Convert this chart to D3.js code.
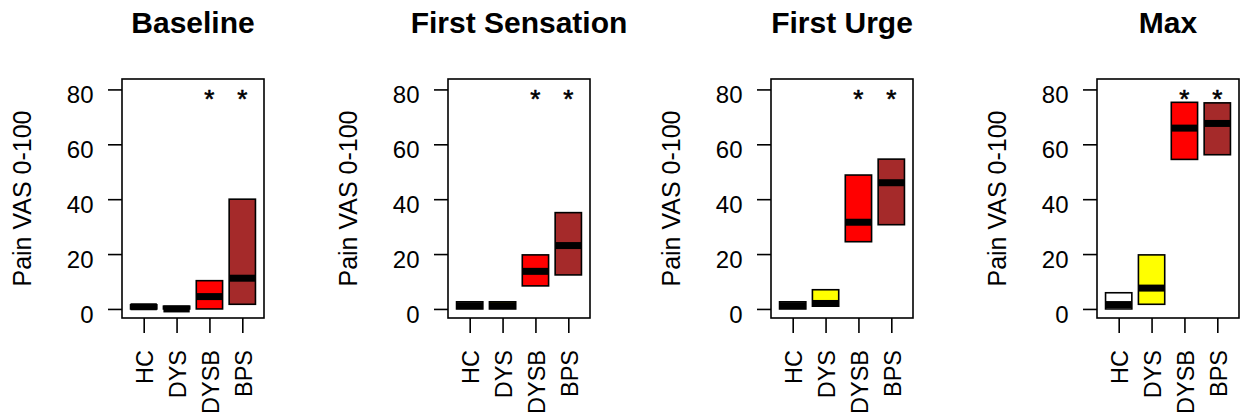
<!DOCTYPE html>
<html>
<head>
<meta charset="utf-8">
<script src="https://cdn.jsdelivr.net/npm/d3@7"></script>
<style>
  html, body { margin: 0; padding: 0; background: #fff; }
  svg { display: block; font-family: "Liberation Sans", Arial, Helvetica, sans-serif; }
</style>
</head>
<body>
<svg id="chart" width="1249" height="420"></svg>
<script>
// ---- data ----
const groups = ["HC", "DYS", "DYSB", "BPS"];
const groupColors = ["#FFFFFF", "#FFFF00", "#FF0000", "#A52A2A"];
const panelTitles = ["Baseline", "First Sensation", "First Urge", "Max"];
const yTicks = [0, 20, 40, 60, 80];
const yLabel = "Pain VAS 0-100";
const significant = ["DYSB", "BPS"];

// lower quartile, median, upper quartile for each group [HC, DYS, DYSB, BPS]
const baselineQ1  = [0, 0, 0, 1.7];
const baselineMed = [0.8, 0, 4.5, 11.2];
const baselineQ3  = [1.5, 1.0, 10.3, 40.0];

const sensationQ1  = [0, 0, 8.4, 12.4];
const sensationMed = [1.2, 1.2, 13.7, 23.1];
const sensationQ3  = [2.6, 2.6, 19.7, 35.1];

const urgeQ1  = [0, 1, 24.5, 30.7];
const urgeMed = [1.2, 2.0, 31.6, 46.0];
const urgeQ3  = [2.6, 7.0, 48.8, 54.6];

const maxQ1  = [0, 1.7, 54.5, 56.2];
const maxMed = [1.6, 7.6, 65.9, 67.6];
const maxQ3  = [5.9, 19.7, 75.3, 75.1];

const panels = [
  { title: panelTitles[0], q1: baselineQ1, med: baselineMed, q3: baselineQ3 },
  { title: panelTitles[1], q1: sensationQ1, med: sensationMed, q3: sensationQ3 },
  { title: panelTitles[2], q1: urgeQ1, med: urgeMed, q3: urgeQ3 },
  { title: panelTitles[3], q1: maxQ1, med: maxMed, q3: maxQ3 }
];

// ---- layout ----
const panelLefts = [122, 448, 771, 1097];
const plotW = 142, plotTop = 79, plotBottom = 318;

const svg = d3.select("#chart");

const y = d3.scaleLinear().domain([-3.3, 83.8]).range([plotBottom, plotTop]);

panels.forEach((p, pi) => {
  const left = panelLefts[pi];
  const x = d3.scaleLinear().domain([0.34, 4.66]).range([0, plotW]);
  const unit = x(2) - x(1);
  const g = svg.append("g").attr("transform", `translate(${left},0)`);

  // boxes
  groups.forEach((grp, i) => {
    const cx = x(i + 1);
    g.append("rect")
      .attr("x", cx - 0.4 * unit)
      .attr("width", 0.8 * unit)
      .attr("y", y(p.q3[i]))
      .attr("height", y(p.q1[i]) - y(p.q3[i]))
      .attr("fill", groupColors[i])
      .attr("stroke", "#000")
      .attr("stroke-width", 1.6);
    g.append("line")
      .attr("x1", cx - 0.4 * unit)
      .attr("x2", cx + 0.4 * unit)
      .attr("y1", y(p.med[i]))
      .attr("y2", y(p.med[i]))
      .attr("stroke", "#000")
      .attr("stroke-width", 7);
  });

  // significance stars
  significant.forEach(s => {
    const i = groups.indexOf(s);
    g.append("text")
      .attr("x", x(i + 1))
      .attr("y", y(80) + 19)
      .attr("text-anchor", "middle")
      .attr("font-size", 26)
      .attr("stroke", "#000")
      .attr("stroke-width", 0.6)
      .text("*");
  });

  // frame
  g.append("rect")
    .attr("x", 0).attr("y", plotTop)
    .attr("width", plotW).attr("height", plotBottom - plotTop)
    .attr("fill", "none").attr("stroke", "#000").attr("stroke-width", 1.6);

  // y axis
  const ya = g.append("g").call(
    d3.axisLeft(y).tickValues(yTicks).tickSize(14).tickPadding(14.5)
  );
  ya.select(".domain").remove();
  ya.selectAll(".tick line").attr("stroke", "#000").attr("stroke-width", 1.6);
  ya.selectAll(".tick text")
    .attr("font-size", 24)
    .attr("fill", "#000")
    .attr("font-family", "Liberation Sans, Arial, sans-serif")
    .attr("dy", "13.5px")
    .attr("dominant-baseline", "auto");

  // x axis
  const xa = g.append("g").attr("transform", `translate(0,${plotBottom})`).call(
    d3.axisBottom(x).tickValues([1, 2, 3, 4]).tickSize(15).tickFormat(d => groups[d - 1])
  );
  xa.select(".domain").remove();
  xa.selectAll(".tick line").attr("stroke", "#000").attr("stroke-width", 1.6);
  xa.selectAll(".tick text")
    .attr("font-size", 23.5)
    .attr("fill", "#000")
    .attr("font-family", "Liberation Sans, Arial, sans-serif")
    .attr("transform", "rotate(-90)")
    .attr("text-anchor", "end")
    .attr("x", -32)
    .attr("y", 9)
    .attr("dy", 0);

  // y label
  g.append("text")
    .attr("transform", `translate(${-100},${(plotTop + plotBottom) / 2}) rotate(-90)`)
    .attr("text-anchor", "middle")
    .attr("dominant-baseline", "central")
    .attr("font-size", 25)
    .text(yLabel);

  // title
  g.append("text")
    .attr("x", plotW / 2)
    .attr("y", 33)
    .attr("text-anchor", "middle")
    .attr("font-size", 30)
    .attr("font-weight", "bold")
    .text(p.title);
});
</script>
</body>
</html>
